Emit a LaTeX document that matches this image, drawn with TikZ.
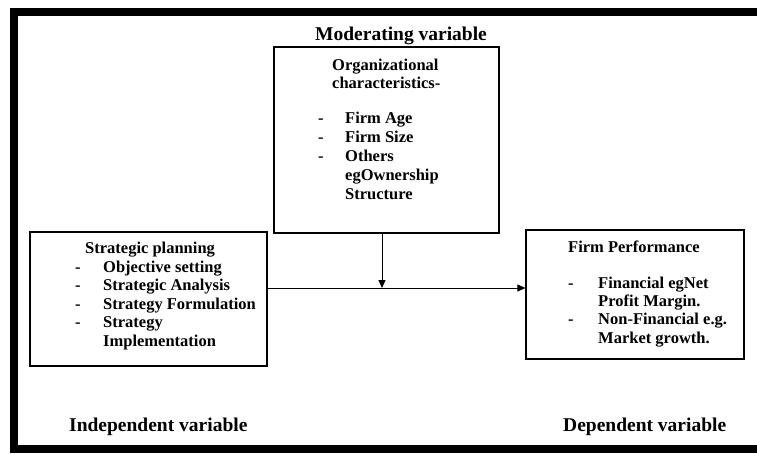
\documentclass[tikz,border=0pt]{standalone}
\usepackage{fontspec}
\setmainfont{Liberation Serif}
\usetikzlibrary{arrows.meta}
\begin{document}
\begin{tikzpicture}[x=1pt,y=-1pt,
  box/.style={draw=black,line width=1.2pt,inner sep=0pt,fill=white},
  txt/.style={anchor=base west,inner sep=0pt,font=\fontsize{16.5}{19}\selectfont\bfseries},
  title/.style={anchor=base west,inner sep=0pt,font=\fontsize{19.5}{22}\selectfont\bfseries},
  arr/.style={line width=1pt,-{Triangle[length=8pt,width=7pt]}}]
\useasboundingbox (0,0) rectangle (757,453);
\fill[white] (0,0) rectangle (757,453);
\begin{scope}
\clip (0,0) rectangle (757,453);
\draw[line width=8pt] (800,12) -- (14,12) -- (14,449) -- (800,449);
\end{scope}
% boxes
\node[box,minimum width=225pt,minimum height=186pt] (org) at (386.5,140) {};
\node[box,minimum width=237pt,minimum height=134pt] (sp) at (148.5,299) {};
\node[box,minimum width=218pt,minimum height=129pt] (fp) at (635,294.5) {};
% titles
\node[title] (tmod) at (315,40.7) {Moderating variable};
\node[title] (tind) at (69,431) {Independent variable};
\node[title] (tdep) at (563,431) {Dependent variable};
% organizational box text
\node[txt] (o1) at (332,70) {Organizational};
\node[txt] (o2) at (332,88.5) {characteristics-};
\node[txt] (od1) at (318,123) {-};
\node[txt] (o3) at (345,123) {Firm Age};
\node[txt] (od2) at (318,142) {-};
\node[txt] (o4) at (345,142) {Firm Size};
\node[txt] (od3) at (318,161.5) {-};
\node[txt] (o5) at (345,161.5) {Others};
\node[txt] (o6) at (345,180.5) {egOwnership};
\node[txt] (o7) at (345,199.5) {Structure};
% strategic planning text
\node[txt] (s0) at (85,253) {Strategic planning};
\node[txt] (sd1) at (75,272) {-};
\node[txt] (s1) at (103,272) {Objective setting};
\node[txt] (sd2) at (75,290.5) {-};
\node[txt] (s2) at (103,290.5) {Strategic Analysis};
\node[txt] (sd3) at (75,309) {-};
\node[txt] (s3) at (103,309) {Strategy Formulation};
\node[txt] (sd4) at (75,327.5) {-};
\node[txt] (s4) at (103,327.5) {Strategy};
\node[txt] (s5) at (103,346.5) {Implementation};
% firm performance text
\node[txt] (f0) at (568,252) {Firm Performance};
\node[txt] (fd1) at (568,288) {-};
\node[txt] (f1) at (598,288) {Financial egNet};
\node[txt] (f2) at (598,306) {Profit Margin.};
\node[txt] (fd2) at (568,324.5) {-};
\node[txt] (f3) at (598,324.5) {Non-Financial e.g.};
\node[txt] (f4) at (598,343) {Market growth.};
% connectors
\coordinate (j) at (382,288);
\draw[arr] (sp.east |- j) -- (fp.west |- j);
\draw[arr] (org.south -| j) -- (j);
\end{tikzpicture}
\end{document}
